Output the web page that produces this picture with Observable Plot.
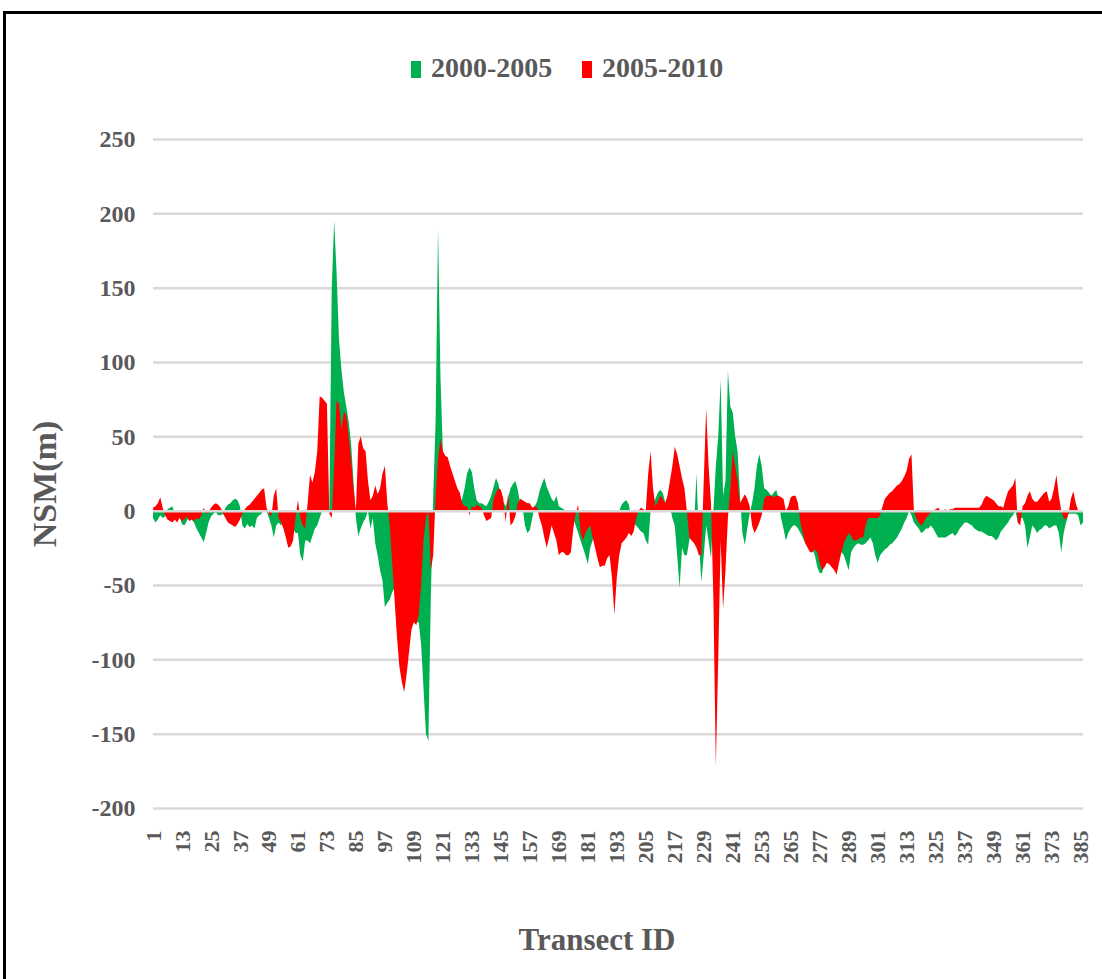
<!DOCTYPE html>
<html><head><meta charset="utf-8">
<script src="https://cdn.jsdelivr.net/npm/d3@7"></script>
<script src="https://cdn.jsdelivr.net/npm/@observablehq/plot@0.6"></script>
<style>
body{margin:0;background:#fff;width:1102px;height:979px;overflow:hidden;position:relative;font-family:"Liberation Serif","Times New Roman",serif;}
#frame{position:absolute;left:3px;top:11px;width:1200px;height:1100px;border-top:3px solid #000;border-left:3px solid #000;}
#chart{position:absolute;left:0;top:0;}
.lg{position:absolute;top:50px;font-weight:bold;font-size:28px;color:#595959;line-height:36px;white-space:nowrap;}
.sw{display:inline-block;width:10px;height:17px;vertical-align:-1px;margin-right:10px;}
#ytitle{position:absolute;left:45px;top:484px;transform:translate(-50%,-50%) rotate(-90deg);font-weight:bold;font-size:34px;color:#595959;white-space:nowrap;}
#xtitle{position:absolute;left:597px;top:940px;transform:translate(-50%,-50%);font-weight:bold;font-size:31px;color:#595959;white-space:nowrap;}
</style></head><body>
<div id="frame"></div>
<div id="chart"></div>
<div class="lg" style="left:411px"><span class="sw" style="background:#00B050"></span>2000-2005</div>
<div class="lg" style="left:582px"><span class="sw" style="background:#FF0000"></span>2005-2010</div>
<div id="ytitle">NSM(m)</div>
<div id="xtitle">Transect ID</div>
<script>
const seriesNames = ["2000-2005", "2005-2010"];
const seriesColors = ["#00B050", "#FF0000"];
const yTicks = [-200, -150, -100, -50, 0, 50, 100, 150, 200, 250];
const xTickLabels = [1,13,25,37,49,61,73,85,97,109,121,133,145,157,169,181,193,205,217,229,241,253,265,277,289,301,313,325,337,349,361,373,385];
const transectIds = d3.range(1, 387);

// NSM (m) 2000-2005, transects 1..386
const nsm2000_2005 = [
-5,-8,-6,-3,-5,-4,1,2,3,-2, -6,-4,-9,-10,-7,-4,-6,-8,-12,-15,
-18,-21,-15,-8,-4,-2,-1,-3,-3,-2, 2,4,5,7,8,7,3,-10,-12,-9,
-11,-10,-12,-5,-3,-2,2,0,-5,-10, -18,-10,-8,-10,-6,-5,-6,-8,-12,-15,
-15,-30,-34,-20,-20,-22,-17,-12,-10,-5, 0,5,10,0,150,195,160,115,95,80,
70,60,45,20,-5,-17,-12,-8,-5,0, -12,-5,-22,-30,-40,-47,-65,-62,-60,-55,
-52,-50,-45,-40,-40,-42,-45,-55,-70,-75, -75,-90,-120,-150,-155,-60,10,60,190,90,
40,30,25,22,15,12,8,5,8,15, 25,29,26,15,7,5,5,4,3,6,
10,16,22,18,10,6,3,8,15,18, 20,14,5,2,-10,-15,-13,-5,3,6,
13,18,22,16,12,8,6,10,3,2, 1,0,0,0,-5,-10,-15,-20,-25,-30,
-36,-25,-20,-12,-10,-8,-6,-5,-4,-3, -2,-2,-1,0,4,6,7,4,-5,-8,
-10,-12,-14,-15,-20,-23,0,4,8,12, 14,12,6,5,3,-5,-10,-30,-52,-25,
-30,-30,-20,-12,-10,25,-20,-48,-30,-10, -20,-32,0,30,50,88,10,20,94,70,
66,50,40,10,-15,-23,-12,-2,5,15, 30,38,30,15,14,12,10,12,14,8,
-5,-12,-20,-15,-12,-10,-10,-12,-15,-18, -22,-22,-25,-26,-30,-38,-42,-42,-35,-30,
-28,-28,-28,-30,-28,-28,-30,-35,-40,-28, -25,-23,-22,-23,-23,-22,-20,-18,-22,-30,
-35,-30,-28,-26,-25,-23,-22,-20,-18,-15, -12,-8,-5,0,-3,-8,-10,-12,-15,-14,
-12,-12,-10,-12,-15,-18,-18,-18,-18,-17, -16,-15,-17,-15,-12,-10,-8,-8,-9,-10,
-12,-13,-14,-14,-15,-16,-17,-17,-18,-20, -18,-14,-12,-10,-8,-5,-3,0,-8,-5,
-5,-10,-25,-18,-10,-12,-15,-13,-12,-10, -10,-12,-11,-10,-10,-15,-28,-15,-8,-2,
-2,-2,-2,-3,-10,-8
];

// NSM (m) 2005-2010, transects 1..386
const nsm2005_2010 = [
2,3,5,9,2,-3,-6,-7,-8,-6, -8,-5,-7,-6,-4,-7,-6,-7,-5,-6,
-3,2,-2,-1,2,4,5,4,2,-2, -5,-8,-9,-10,-11,-9,-6,-2,1,3,
4,6,8,10,12,14,15,2,-2,-4, 10,15,-5,-8,-12,-18,-25,-24,-20,-5,
7,-5,-10,-12,5,24,19,26,40,77, 76,74,72,-2,-5,30,74,72,55,66,
65,50,35,15,0,45,50,42,40,20, 7,10,17,11,15,25,30,5,-10,-35,
-60,-85,-105,-115,-122,-110,-95,-80,-75,-77, -70,-50,-20,-5,0,-40,-30,10,35,48,
40,37,36,30,25,20,15,12,5,3, 3,-3,3,2,4,3,2,-3,-7,-6,
-5,8,12,15,14,8,-8,12,-10,-8, -4,5,8,7,6,5,5,2,3,2,
-5,-10,-18,-25,-18,-10,-15,-20,-30,-28, -28,-30,-30,-28,-12,-2,4,-15,-20,-15,
-12,-10,-18,-25,-32,-38,-37,-37,-32,-30, -45,-70,-45,-30,-22,-20,-18,-15,-17,-14,
-5,0,2,1,0,25,40,15,3,6, 10,8,5,10,20,30,43,38,30,22,
15,0,-18,-20,-22,-25,-30,-30,20,69, 30,5,-60,-172,-100,-20,-66,-40,-5,15,
40,30,20,5,8,11,8,3,-10,-15, -12,-8,-3,8,10,10,10,9,10,10,
9,8,0,3,9,10,10,5,-8,-15, -22,-25,-28,-28,-26,-28,-35,-40,-38,-35,
-36,-38,-40,-43,-35,-28,-22,-18,-15,-17, -20,-20,-19,-18,-18,-10,-5,-5,-5,-5,
-5,-3,3,8,10,12,13,15,17,18, 20,23,27,35,38,0,-5,-8,-10,-8,
-5,-3,-1,0,1,2,0,0,1,0, 1,1,2,2,2,2,2,2,2,2,
2,2,2,4,8,10,9,8,7,5, 3,3,2,8,13,15,17,22,-8,-10,
3,5,10,13,8,6,6,8,10,12, 13,6,8,15,24,10,0,-5,-6,-2,
8,13,5,0,0,0
];

const seriesValues = [nsm2000_2005, nsm2005_2010];
const rows = seriesNames.map((name, s) =>
  transectIds.map((id, k) => ({id, nsm: seriesValues[s][k], series: name}))
);

const textStyle = {fontFamily: '"Liberation Serif","Times New Roman",serif', fontWeight: "bold"};

const chart = Plot.plot({
  width: 1102,
  height: 900,
  marginLeft: 153,
  marginRight: 19,
  marginTop: 139,
  marginBottom: 92,
  style: {background: "transparent", color: "#595959", ...textStyle},
  x: {type: "linear", domain: [1, 386]},
  y: {domain: [-200, 250]},
  marks: [
    Plot.ruleY(yTicks.filter(d => d !== 0), {stroke: "#d9d9d9", strokeWidth: 2.5}),
    Plot.areaY(rows[0], {x: "id", y: "nsm", fill: seriesColors[0], curve: "linear"}),
    Plot.areaY(rows[1], {x: "id", y: "nsm", fill: seriesColors[1], curve: "linear"}),
    Plot.ruleY([0], {stroke: "#d9d9d9", strokeWidth: 2.5}),
    Plot.axisY({ticks: yTicks, tickFormat: d => String(d), tickSize: 0, tickPadding: 18, fontSize: 24, label: null, fill: "#595959"}),
    Plot.axisX({ticks: xTickLabels, tickFormat: d => String(d), tickSize: 0, tickPadding: 22, tickRotate: -90, fontSize: 22, label: null, fill: "#595959"})
  ]
});
document.getElementById("chart").appendChild(chart);
</script>
</body></html>
